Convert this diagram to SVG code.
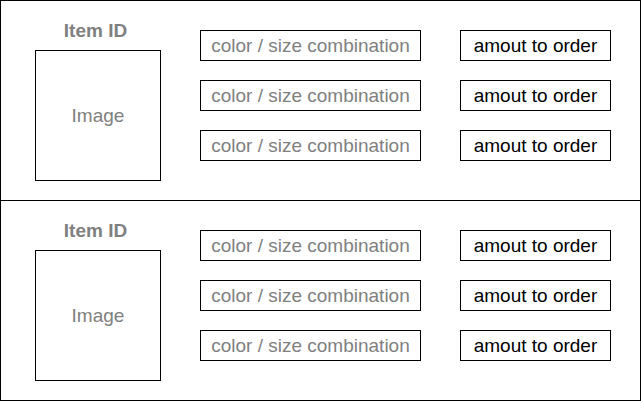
<svg xmlns="http://www.w3.org/2000/svg" width="641" height="401" viewBox="0 0 641 401">
<style>
.box{fill:#fff;stroke:#000;stroke-width:1}
.t{font-family:"Liberation Sans",Arial,sans-serif;font-size:19px;text-anchor:middle}
.g{fill:#808080}
.k{fill:#000}
.b{font-weight:bold}
</style>
<rect width="641" height="401" fill="#fff"/>
<g id="panel1">
<rect class="box" x="0.5" y="0.5" width="640" height="200"/>
<text class="t g b" x="95.5" y="37">Item ID</text>
<g id="image1"><rect class="box" x="35.5" y="50.5" width="125" height="130"/><text class="t g" x="98" y="122">Image</text></g>
<g id="combo1a"><rect class="box" x="200.5" y="30.5" width="220" height="30"/><text class="t g" x="310.5" y="52">color / size combination</text></g>
<g id="combo1b"><rect class="box" x="200.5" y="80.5" width="220" height="30"/><text class="t g" x="310.5" y="102">color / size combination</text></g>
<g id="combo1c"><rect class="box" x="200.5" y="130.5" width="220" height="30"/><text class="t g" x="310.5" y="152">color / size combination</text></g>
<g id="amount1a"><rect class="box" x="460.5" y="30.5" width="150" height="30"/><text class="t k" x="535.5" y="52">amout to order</text></g>
<g id="amount1b"><rect class="box" x="460.5" y="80.5" width="150" height="30"/><text class="t k" x="535.5" y="102">amout to order</text></g>
<g id="amount1c"><rect class="box" x="460.5" y="130.5" width="150" height="30"/><text class="t k" x="535.5" y="152">amout to order</text></g>
</g>
<g id="panel2">
<rect class="box" x="0.5" y="200.5" width="640" height="200"/>
<text class="t g b" x="95.5" y="237">Item ID</text>
<g id="image2"><rect class="box" x="35.5" y="250.5" width="125" height="130"/><text class="t g" x="98" y="322">Image</text></g>
<g id="combo2a"><rect class="box" x="200.5" y="230.5" width="220" height="30"/><text class="t g" x="310.5" y="252">color / size combination</text></g>
<g id="combo2b"><rect class="box" x="200.5" y="280.5" width="220" height="30"/><text class="t g" x="310.5" y="302">color / size combination</text></g>
<g id="combo2c"><rect class="box" x="200.5" y="330.5" width="220" height="30"/><text class="t g" x="310.5" y="352">color / size combination</text></g>
<g id="amount2a"><rect class="box" x="460.5" y="230.5" width="150" height="30"/><text class="t k" x="535.5" y="252">amout to order</text></g>
<g id="amount2b"><rect class="box" x="460.5" y="280.5" width="150" height="30"/><text class="t k" x="535.5" y="302">amout to order</text></g>
<g id="amount2c"><rect class="box" x="460.5" y="330.5" width="150" height="30"/><text class="t k" x="535.5" y="352">amout to order</text></g>
</g>
<g id="connectors"></g>
</svg>
